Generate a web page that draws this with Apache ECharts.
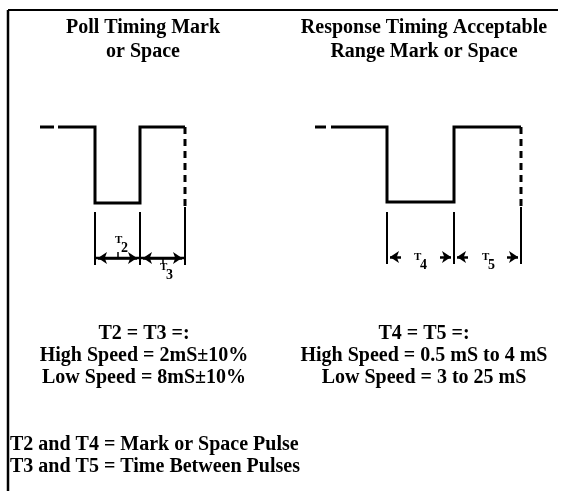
<!DOCTYPE html>
<html>
<head>
<meta charset="utf-8">
<script src="https://cdn.jsdelivr.net/npm/echarts@6/dist/echarts.min.js"></script>
<style>
html,body{margin:0;padding:0;background:#fff;}
#c{width:561px;height:491px;}
</style>
</head>
<body>
<div id="c"></div>
<script>
// ---- Diagram data (diagram units, y grows downward) ----
// Poll timing waveform (left)
const pollLeadDash   = [[40,127],[54,127]];
const pollWave       = [[58,127],[95,127],[95,203],[140,203],[140,127],[185,127]];
const pollTrailDash  = [[185,127],[185,207]];
const pollExtLines   = [
  [[95,212],[95,265]],
  [[140,212],[140,265]],
  [[185,207],[185,265]]
];
const pollDimLine    = [[95,258],[185,258]];
const pollArrows     = [
  [[118,258],[98,258]], [[118,258],[137,258]],
  [[163,258],[143,258]], [[163,258],[182,258]]
];
const pollLeaders    = [
  [[118,258],[118,252]],
  [[163,258],[163,264]]
];
// Response timing waveform (right)
const respLeadDash   = [[315,127],[326,127]];
const respWave       = [[331,127],[387,127],[387,202],[454,202],[454,127],[521,127]];
const respTrailDash  = [[521,127],[521,207]];
const respExtLines   = [
  [[387,212],[387,264]],
  [[454,212],[454,264]],
  [[521,207],[521,264]]
];
const respArrows     = [
  [[401,257],[390,257]], [[440,257],[451,257]],
  [[468,257],[457,257]], [[507,257],[518,257]]
];
// Labels
const leftTitle  = ['Poll Timing Mark', 'or Space'];
const rightTitle = ['Response Timing Acceptable', 'Range Mark or Space'];
const leftSpec   = ['T2 = T3 =:', 'High Speed = 2mS\u00b110%', 'Low Speed = 8mS\u00b110%'];
const rightSpec  = ['T4 = T5 =:', 'High Speed = 0.5 mS to 4 mS', 'Low Speed = 3 to 25 mS'];
const notes      = ['T2 and T4 = Mark or Space Pulse', 'T3 and T5 = Time Between Pulses'];
const subLabels  = [
  {t:'T', s:'2', x:115, y:235},
  {t:'T', s:'3', x:160, y:262},
  {t:'T', s:'4', x:414, y:252},
  {t:'T', s:'5', x:482, y:252}
];

const FONT = '"Liberation Serif","Times New Roman",serif';

function poly(points, width, dashed) {
  return {
    type: 'line', data: points, symbol: 'none', silent: true,
    animation: false, clip: false,
    lineStyle: {color: '#000', width: width, type: dashed ? [7, 5] : 'solid', cap: 'butt', join: 'miter'}
  };
}

const series = [];
series.push(poly(pollLeadDash, 3));
series.push(poly(pollWave, 3));
series.push(poly(pollTrailDash, 3, true));
pollExtLines.forEach(l => series.push(poly(l, 2)));
series.push(poly(pollDimLine, 2.5));
pollLeaders.forEach(l => series.push(poly(l, 1.5)));
series.push(poly(respLeadDash, 3));
series.push(poly(respWave, 3));
series.push(poly(respTrailDash, 3, true));
respExtLines.forEach(l => series.push(poly(l, 2)));

series.push({
  type: 'lines', coordinateSystem: 'cartesian2d', silent: true, animation: false,
  symbol: ['none', 'arrow'], symbolSize: 9,
  lineStyle: {color: '#000', width: 2.5, opacity: 1, curveness: 0},
  data: pollArrows.concat(respArrows).map(c => ({coords: c}))
});

const graphics = [];
// frame
graphics.push({type:'line', shape:{x1:8, y1:10, x2:558, y2:10}, style:{stroke:'#000', lineWidth:2}});
graphics.push({type:'line', shape:{x1:8, y1:10, x2:8, y2:491}, style:{stroke:'#000', lineWidth:2.5}});

function centered(lines, cx, y0, dy) {
  lines.forEach((t, i) => graphics.push({
    type: 'text', x: cx, y: y0 + i * dy,
    style: {text: t, font: 'bold 20px ' + FONT, fill: '#000', align: 'center', verticalAlign: 'middle'}
  }));
}
centered(leftTitle, 143, 28, 24);
centered(rightTitle, 424, 28, 24);
centered(leftSpec, 144, 334, 22);
centered(rightSpec, 424, 334, 22);
notes.forEach((t, i) => graphics.push({
  type: 'text', x: 10, y: 445 + i * 22,
  style: {text: t, font: 'bold 20px ' + FONT, fill: '#000', align: 'left', verticalAlign: 'middle'}
}));
subLabels.forEach(l => {
  graphics.push({type:'text', x:l.x, y:l.y, style:{text:l.t, font:'bold 11px ' + FONT, fill:'#000', align:'left', verticalAlign:'top'}});
  graphics.push({type:'text', x:l.x + 6, y:l.y + 6, style:{text:l.s, font:'bold 14px ' + FONT, fill:'#000', align:'left', verticalAlign:'top'}});
});

const chart = echarts.init(document.getElementById('c'), null, {renderer: 'canvas'});
chart.setOption({
  animation: false,
  backgroundColor: '#fff',
  grid: {left: 0, right: 0, top: 0, bottom: 0},
  xAxis: {type: 'value', min: 0, max: 561, show: false},
  yAxis: {type: 'value', min: 0, max: 491, inverse: true, show: false},
  series: series,
  graphic: graphics
});
</script>
</body>
</html>
